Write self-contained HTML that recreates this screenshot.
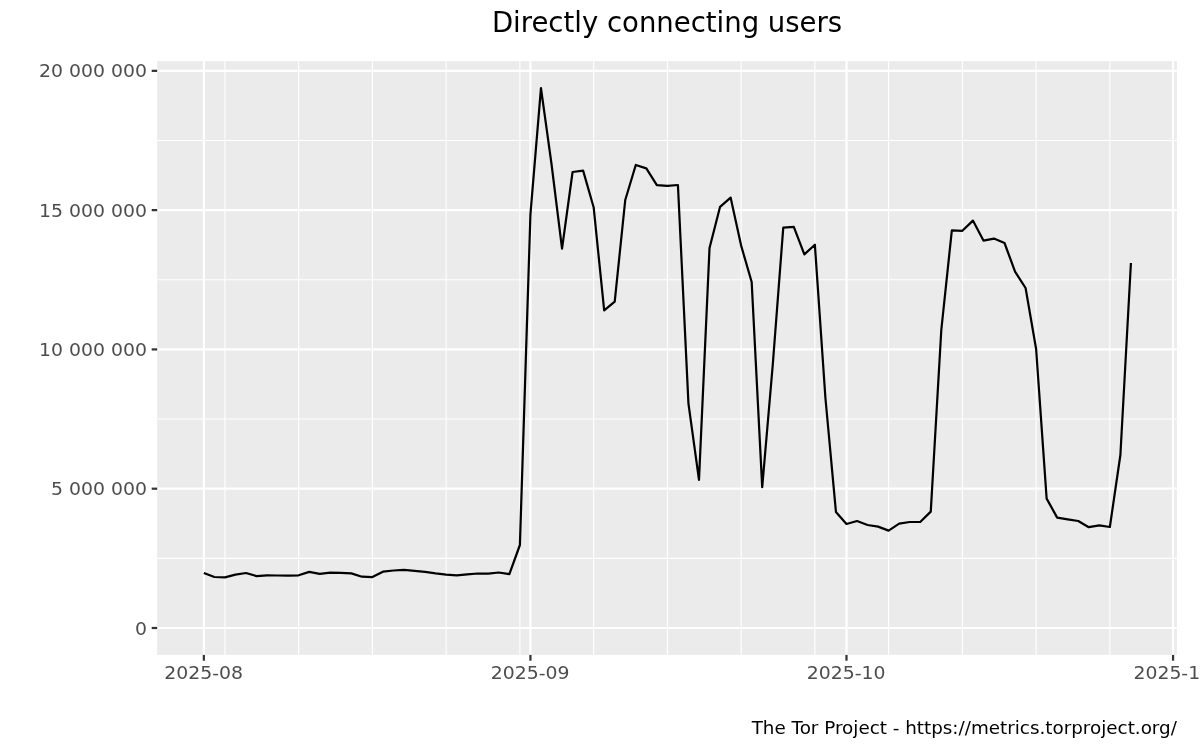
<!DOCTYPE html>
<html lang="en"><head><meta charset="utf-8"><title>Directly connecting users</title>
<style>
html,body{margin:0;padding:0;background:#fff;}
body{width:1200px;height:750px;overflow:hidden;}
svg{display:block;}
text{font-family:"DejaVu Sans","Liberation Sans",sans-serif;}
.ax{font-size:18.45px;fill:#4d4d4d;}
.cap{font-size:18.33px;fill:#000;}
.title{font-size:27.5px;fill:#000;}
</style></head><body>
<svg width="1200" height="750" viewBox="0 0 1200 750">
<rect x="0" y="0" width="1200" height="750" fill="#ffffff"/>
<rect x="157.2" y="61.1" width="1019.70" height="593.80" fill="#ebebeb"/>
<clipPath id="pc"><rect x="157.2" y="61.1" width="1019.70" height="593.80"/></clipPath>
<g clip-path="url(#pc)" stroke="#ffffff" fill="none">
<line x1="157.2" x2="1176.9" y1="558.36" y2="558.36" stroke-width="1.11"/>
<line x1="157.2" x2="1176.9" y1="419.06" y2="419.06" stroke-width="1.11"/>
<line x1="157.2" x2="1176.9" y1="279.78" y2="279.78" stroke-width="1.11"/>
<line x1="157.2" x2="1176.9" y1="140.49" y2="140.49" stroke-width="1.11"/>
<line y1="61.1" y2="654.9" x1="224.92" x2="224.92" stroke-width="1.11"/>
<line y1="61.1" y2="654.9" x1="298.66" x2="298.66" stroke-width="1.11"/>
<line y1="61.1" y2="654.9" x1="372.41" x2="372.41" stroke-width="1.11"/>
<line y1="61.1" y2="654.9" x1="446.15" x2="446.15" stroke-width="1.11"/>
<line y1="61.1" y2="654.9" x1="519.90" x2="519.90" stroke-width="1.11"/>
<line y1="61.1" y2="654.9" x1="593.64" x2="593.64" stroke-width="1.11"/>
<line y1="61.1" y2="654.9" x1="667.39" x2="667.39" stroke-width="1.11"/>
<line y1="61.1" y2="654.9" x1="741.13" x2="741.13" stroke-width="1.11"/>
<line y1="61.1" y2="654.9" x1="814.88" x2="814.88" stroke-width="1.11"/>
<line y1="61.1" y2="654.9" x1="888.62" x2="888.62" stroke-width="1.11"/>
<line y1="61.1" y2="654.9" x1="962.37" x2="962.37" stroke-width="1.11"/>
<line y1="61.1" y2="654.9" x1="1036.12" x2="1036.12" stroke-width="1.11"/>
<line y1="61.1" y2="654.9" x1="1109.86" x2="1109.86" stroke-width="1.11"/>
<line x1="157.2" x2="1176.9" y1="628.00" y2="628.00" stroke-width="2.22"/>
<line x1="157.2" x2="1176.9" y1="488.71" y2="488.71" stroke-width="2.22"/>
<line x1="157.2" x2="1176.9" y1="349.42" y2="349.42" stroke-width="2.22"/>
<line x1="157.2" x2="1176.9" y1="210.13" y2="210.13" stroke-width="2.22"/>
<line x1="157.2" x2="1176.9" y1="70.84" y2="70.84" stroke-width="2.22"/>
<line y1="61.1" y2="654.9" x1="203.85" x2="203.85" stroke-width="2.22"/>
<line y1="61.1" y2="654.9" x1="530.43" x2="530.43" stroke-width="2.22"/>
<line y1="61.1" y2="654.9" x1="846.49" x2="846.49" stroke-width="2.22"/>
<line y1="61.1" y2="654.9" x1="1173.07" x2="1173.07" stroke-width="2.22"/>
<polyline points="203.85,573.00 214.38,577.00 224.92,577.40 235.45,574.60 245.99,573.00 256.52,576.10 267.06,575.40 277.60,575.50 288.13,575.70 298.66,575.30 309.20,571.90 319.74,573.80 330.27,572.60 340.81,572.90 351.34,573.40 361.88,576.70 372.41,577.10 382.94,571.70 393.48,570.50 404.01,569.80 414.55,570.90 425.09,571.80 435.62,573.40 446.15,574.70 456.69,575.30 467.23,574.30 477.76,573.50 488.29,573.70 498.83,572.50 509.37,574.10 519.90,545.00 530.43,214.40 540.97,88.20 551.50,164.00 562.04,248.60 572.58,172.00 583.11,170.60 593.64,207.20 604.18,310.40 614.72,301.60 625.25,200.00 635.78,165.00 646.32,168.40 656.86,185.20 667.39,185.80 677.92,185.00 688.46,403.60 699.00,479.80 709.53,248.00 720.07,206.80 730.60,197.60 741.13,245.60 751.67,282.00 762.21,487.20 772.74,365.00 783.27,227.60 793.81,226.80 804.35,254.40 814.88,244.80 825.42,398.00 835.95,512.00 846.49,524.00 857.02,521.00 867.56,525.00 878.09,526.60 888.62,530.60 899.16,523.60 909.70,522.00 920.23,522.00 930.76,511.60 941.30,330.00 951.84,230.40 962.37,230.80 972.91,220.60 983.44,240.60 993.98,238.60 1004.51,243.00 1015.05,271.60 1025.58,288.00 1036.12,349.00 1046.65,498.60 1057.18,517.60 1067.72,519.40 1078.25,521.00 1088.79,527.20 1099.33,525.40 1109.86,527.00 1120.39,455.00 1130.93,263.00" stroke="#000000" stroke-width="2.22" stroke-linejoin="round" stroke-linecap="butt"/>
</g>
<g stroke="#333333" stroke-width="2.22">
<line x1="151.70" x2="157.2" y1="628.00" y2="628.00"/>
<line x1="151.70" x2="157.2" y1="488.71" y2="488.71"/>
<line x1="151.70" x2="157.2" y1="349.42" y2="349.42"/>
<line x1="151.70" x2="157.2" y1="210.13" y2="210.13"/>
<line x1="151.70" x2="157.2" y1="70.84" y2="70.84"/>
<line y1="654.9" y2="660.70" x1="203.85" x2="203.85"/>
<line y1="654.9" y2="660.70" x1="530.43" x2="530.43"/>
<line y1="654.9" y2="660.70" x1="846.49" x2="846.49"/>
<line y1="654.9" y2="660.70" x1="1173.07" x2="1173.07"/>
</g>
<text class="ax" text-anchor="end" transform="translate(146.89 634.65) scale(1.022 1)">0</text>
<text class="ax" text-anchor="end" transform="translate(146.89 495.36) scale(1.022 1)">5 000 000</text>
<text class="ax" text-anchor="end" transform="translate(146.89 356.07) scale(1.022 1)">10 000 000</text>
<text class="ax" text-anchor="end" transform="translate(146.89 216.78) scale(1.022 1)">15 000 000</text>
<text class="ax" text-anchor="end" transform="translate(146.89 77.49) scale(1.022 1)">20 000 000</text>
<text class="ax" text-anchor="middle" transform="translate(203.55 678.7) scale(1.022 1)">2025-08</text>
<text class="ax" text-anchor="middle" transform="translate(530.13 678.7) scale(1.022 1)">2025-09</text>
<text class="ax" text-anchor="middle" transform="translate(846.19 678.7) scale(1.022 1)">2025-10</text>
<text class="ax" text-anchor="middle" transform="translate(1172.77 678.7) scale(1.022 1)">2025-11</text>
<text class="title" text-anchor="middle" x="667.05" y="32.2">Directly connecting users</text>
<text class="cap" text-anchor="end" x="1176.90" y="734.4">The Tor Project - https://metrics.torproject.org/</text>
</svg>
</body></html>
